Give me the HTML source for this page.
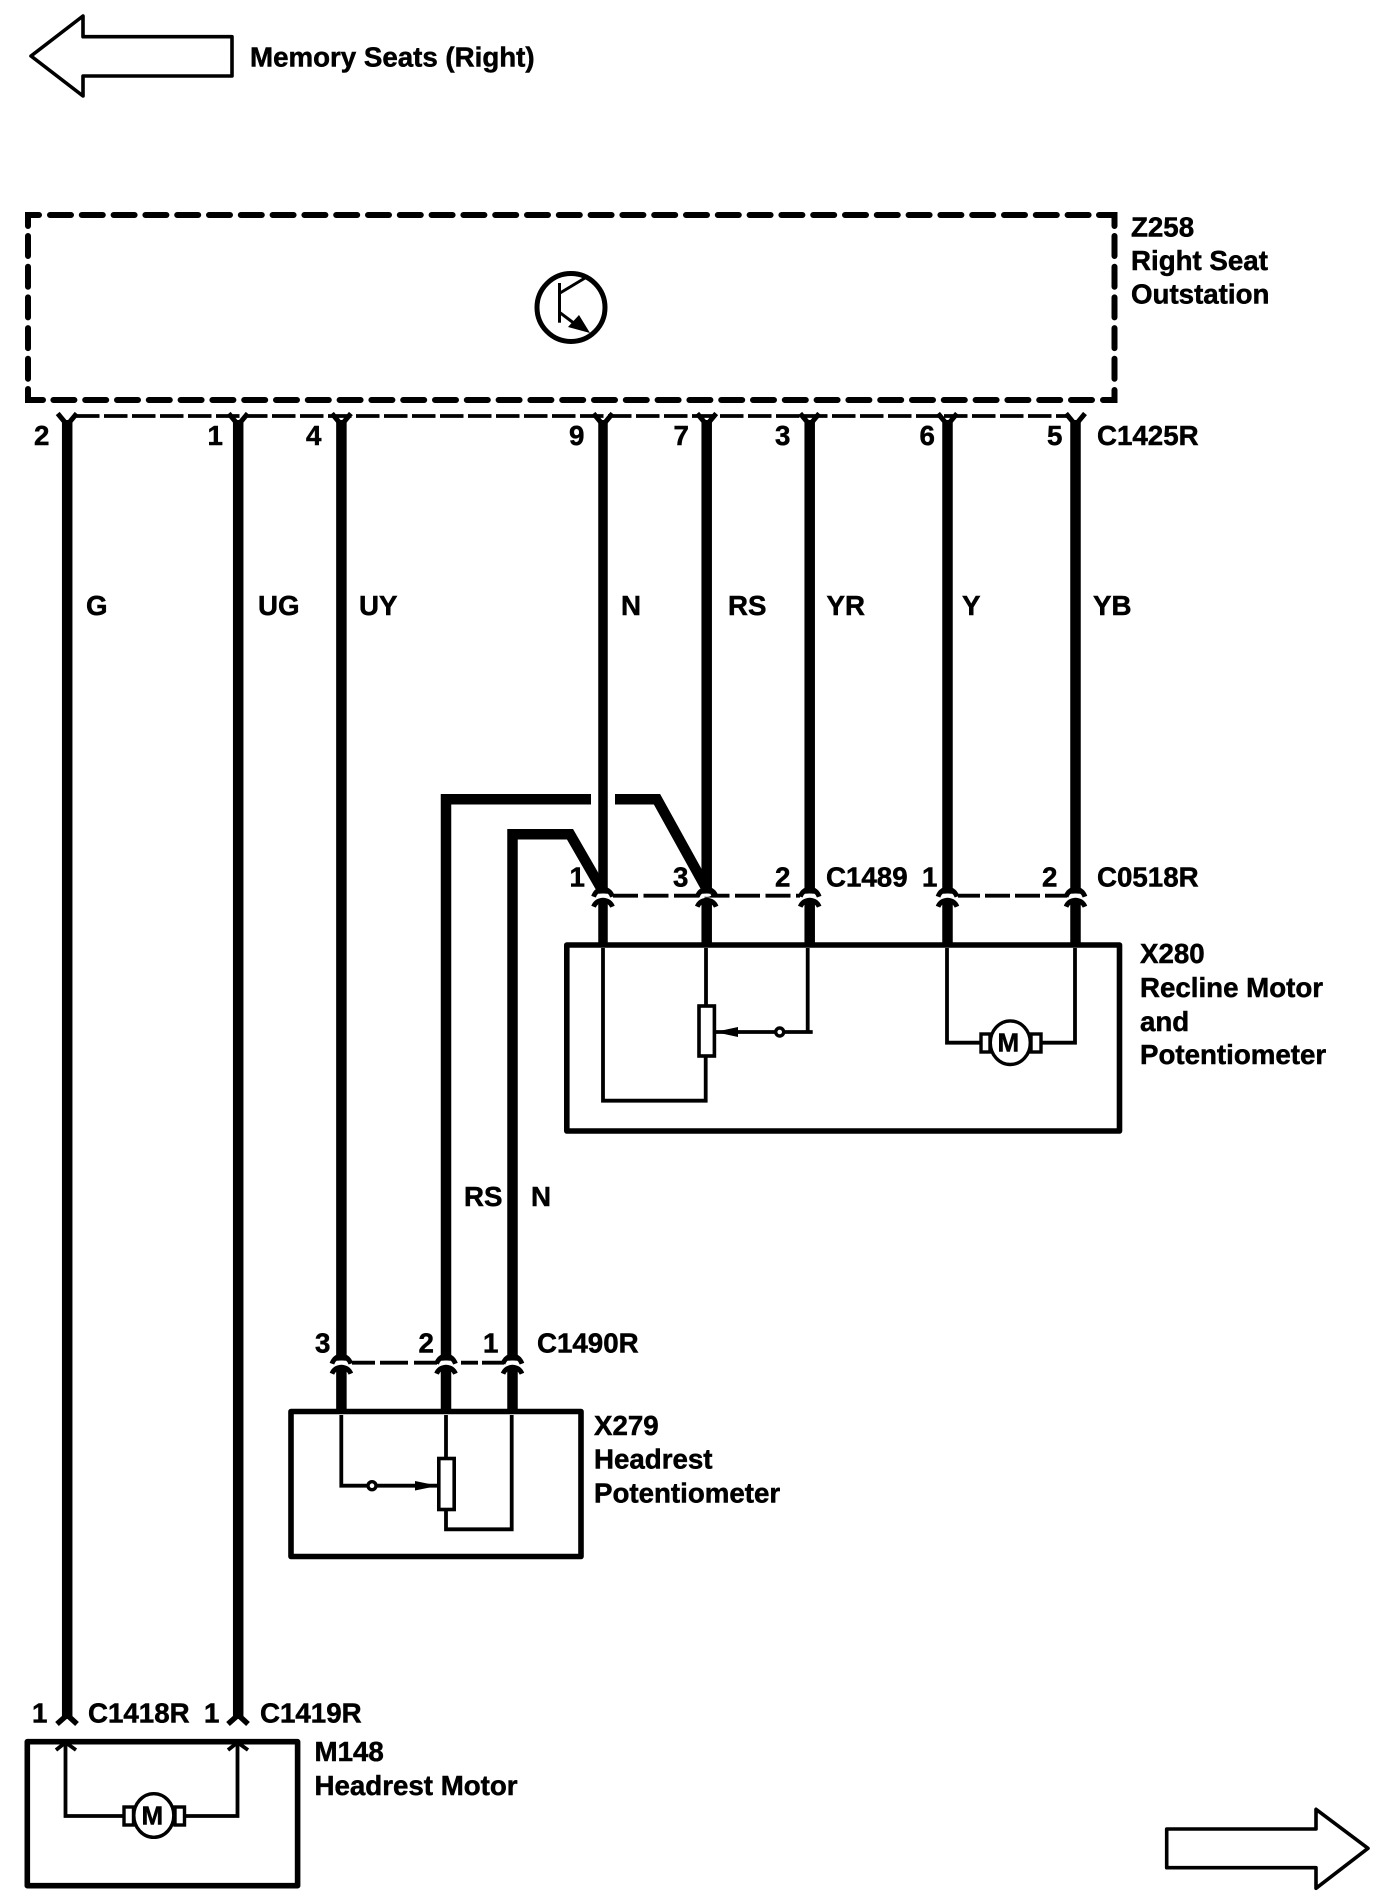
<!DOCTYPE html>
<html><head><meta charset="utf-8"><style>
html,body{margin:0;padding:0;background:#fff;width:1392px;height:1902px;overflow:hidden}
svg{display:block}
text{font-family:"Liberation Sans",Arial,sans-serif;font-weight:bold;font-size:27.7px;fill:#000;stroke:#000;stroke-width:.5px}
</style></head><body>
<svg width="1392" height="1902" viewBox="0 0 1392 1902" xmlns="http://www.w3.org/2000/svg">
<defs>
<g id="c">
<path d="M-9.5,1 Q-7,-6 0,-7 Q7,-6 9.5,1" fill="none" stroke="#000" stroke-width="4.8"/>
<path d="M-5.5,-7 H5.5 V-2 H-5.5Z" fill="#000"/>
<ellipse cx="0" cy="-.5" rx="4.5" ry="1.7" fill="#fff"/>
<path d="M-9.5,11 Q-7,5 0,4.5 Q7,5 9.5,11" fill="none" stroke="#000" stroke-width="4.8"/>
</g>
<path id="y" d="M-9.5,413.5 L0,425 L9.5,413.5" fill="none" stroke="#000" stroke-width="5"/>
</defs>
<rect width="1392" height="1902" fill="#fff"/>

<!-- arrows -->
<path d="M31,56 L83,16 V36.7 H232 V76 H83 V96 Z" fill="#fff" stroke="#000" stroke-width="3.6" stroke-linejoin="round"/>
<path d="M1368,1848.3 L1316,1809.3 V1829 H1166.7 V1867.7 H1316 V1888.3 Z" fill="#fff" stroke="#000" stroke-width="3.6" stroke-linejoin="round"/>

<!-- Z258 dashed box -->
<g fill="none" stroke="#000" stroke-width="6" stroke-linecap="round">
<path d="M28,226 V215 H39"/>
<path d="M1099,215 H1114.5 V226"/>
<path d="M28,389 V400 H43"/>
<path d="M1103,400 H1114.5 V390"/>
<line x1="50" y1="215" x2="1095" y2="215" stroke-dasharray="21 10.8"/>
<line x1="53.4" y1="400" x2="1095" y2="400" stroke-dasharray="21 10.8"/>
<line x1="28" y1="236" x2="28" y2="381" stroke-dasharray="20 10.7"/>
<line x1="1114.5" y1="236" x2="1114.5" y2="381" stroke-dasharray="20 10.7"/>
</g>

<!-- transistor -->
<circle cx="571" cy="307.5" r="34" fill="none" stroke="#000" stroke-width="5"/>
<g stroke="#000" stroke-width="3" fill="none">
<line x1="559.5" y1="283" x2="559.5" y2="322.7"/>
<line x1="560" y1="293" x2="585" y2="278"/>
<line x1="560" y1="312.7" x2="575" y2="324"/>
</g>
<path d="M590,333 L579,315 L568,327 Z" fill="#000"/>

<!-- connector dashes -->
<g stroke="#000" stroke-width="3.8" fill="none">
<line x1="76" y1="416" x2="1070" y2="416" stroke-dasharray="23.5 4.5"/>
<line x1="613" y1="895.7" x2="800" y2="895.7" stroke-dasharray="25 5.5"/>
<line x1="958" y1="895.7" x2="1067" y2="895.7" stroke-dasharray="22 5 25 5 25 5 25"/>
<line x1="352" y1="1362.7" x2="504" y2="1362.7" stroke-dasharray="23 5 28 6 23 24 17 4 22"/>
</g>

<!-- heavy wires -->
<g stroke="#000" fill="none" stroke-width="10.5" stroke-linejoin="miter">
<line x1="67.2" y1="420" x2="67.2" y2="1719"/>
<line x1="238.2" y1="420" x2="238.2" y2="1719"/>
<line x1="341.4" y1="420" x2="341.4" y2="1357"/>
<line x1="341.4" y1="1368" x2="341.4" y2="1410"/>
<line x1="603" y1="420" x2="603" y2="890" stroke-width="9.5"/>
<line x1="603" y1="900" x2="603" y2="943" stroke-width="9.5"/>
<line x1="706.7" y1="420" x2="706.7" y2="890"/>
<line x1="706.7" y1="900" x2="706.7" y2="943"/>
<line x1="809.7" y1="420" x2="809.7" y2="890"/>
<line x1="809.7" y1="900" x2="809.7" y2="943"/>
<line x1="947.5" y1="420" x2="947.5" y2="890"/>
<line x1="947.5" y1="900" x2="947.5" y2="943"/>
<line x1="1075.5" y1="420" x2="1075.5" y2="890"/>
<line x1="1075.5" y1="900" x2="1075.5" y2="943"/>
<polyline points="446,1357 446,799.3 591,799.3"/>
<polyline points="615,799.3 657,799.3 705,886"/>
<polyline points="512.5,1357 512.5,834.3 570,834.3 601,888"/>
<line x1="446" y1="1368" x2="446" y2="1410"/>
<line x1="512.5" y1="1368" x2="512.5" y2="1410"/>
</g>

<!-- Y terminals -->
<use href="#y" x="67.2"/><use href="#y" x="238.2"/><use href="#y" x="341.4"/><use href="#y" x="603"/>
<use href="#y" x="706.7"/><use href="#y" x="809.7"/><use href="#y" x="947.5"/><use href="#y" x="1075.5"/>
<g fill="none" stroke="#000" stroke-width="5.5">
<path d="M57,1724 L67.2,1715 L77,1724"/>
<path d="M228,1724 L238.2,1715 L248,1724"/>
</g>

<!-- connector symbols -->
<use href="#c" x="603" y="895.7"/><use href="#c" x="706.7" y="895.7"/><use href="#c" x="809.7" y="895.7"/>
<use href="#c" x="947.5" y="895.7"/><use href="#c" x="1075.5" y="895.7"/>
<use href="#c" x="341.4" y="1362.7"/><use href="#c" x="446" y="1362.7"/><use href="#c" x="512.5" y="1362.7"/>

<!-- component boxes -->
<g fill="none" stroke="#000" stroke-width="5.6" stroke-linejoin="round">
<rect x="566.8" y="945" width="552.7" height="186"/>
<rect x="291" y="1411.5" width="290" height="145"/>
<rect x="27.3" y="1741.7" width="270.3" height="144"/>
</g>

<!-- X280 internals -->
<g fill="none" stroke="#000" stroke-width="3.8">
<polyline points="603,948 603,1100.7 705.7,1100.7 705.7,1056"/>
<line x1="706" y1="948" x2="706" y2="1006"/>
<rect x="699" y="1006" width="15.4" height="50" fill="#fff" stroke-width="3.6"/>
<polyline points="807.7,948 807.7,1032"/>
<line x1="812.7" y1="1032" x2="716" y2="1032"/>
<circle cx="779.7" cy="1032" r="4" fill="#fff" stroke-width="3.4"/>
<polyline points="947,948 947,1042.7 981,1042.7"/>
<polyline points="1075,948 1075,1042.7 1041,1042.7"/>
<rect x="981" y="1034" width="9" height="18" fill="#fff" stroke-width="3.4"/>
<rect x="1031" y="1034" width="10" height="18" fill="#fff" stroke-width="3.4"/>
<ellipse cx="1010.3" cy="1042.7" rx="20" ry="21.8" fill="#fff" stroke-width="3.4"/>
</g>
<path d="M715,1032 L738,1027 V1037 Z" fill="#000"/>
<text x="997.5" y="1051.5" style="font-size:26px">M</text>

<!-- X279 internals -->
<g fill="none" stroke="#000" stroke-width="3.8">
<polyline points="341.3,1415 341.3,1485.7 438,1485.7"/>
<circle cx="372" cy="1485.7" r="4" fill="#fff" stroke-width="3.4"/>
<line x1="446" y1="1415" x2="446" y2="1458"/>
<rect x="438.8" y="1458.5" width="15.4" height="51" fill="#fff" stroke-width="3.6"/>
<polyline points="446,1510 446,1529.3 511.7,1529.3 511.7,1415"/>
</g>
<path d="M438,1485.7 L415,1481 V1490.5 Z" fill="#000"/>

<!-- M148 internals -->
<g fill="none" stroke="#000" stroke-width="3.8">
<polyline points="65.5,1745 65.5,1816 124,1816"/>
<polyline points="237.5,1745 237.5,1816 184,1816"/>
<polyline points="56,1750 65.5,1742.5 76,1750"/>
<polyline points="228,1750 237.5,1742.5 248,1750"/>
<rect x="124" y="1807" width="9.5" height="18" fill="#fff" stroke-width="3.4"/>
<rect x="175" y="1807" width="9.5" height="18" fill="#fff" stroke-width="3.4"/>
<ellipse cx="153.8" cy="1815.5" rx="20" ry="21.8" fill="#fff" stroke-width="3.4"/>
</g>
<text x="141.5" y="1824.5" style="font-size:26px">M</text>

<!-- labels -->
<text x="250" y="66.7">Memory Seats (Right)</text>
<text x="1131" y="236.7">Z258</text>
<text x="1131" y="270">Right Seat</text>
<text x="1131" y="303.3">Outstation</text>

<text x="34" y="445">2</text><text x="207.5" y="445">1</text><text x="306" y="445">4</text>
<text x="569" y="445">9</text><text x="673.5" y="445">7</text><text x="775" y="445">3</text>
<text x="919.5" y="445">6</text><text x="1047" y="445">5</text>
<text x="1097" y="445">C1425R</text>

<text x="86" y="615">G</text><text x="258" y="615">UG</text><text x="359" y="615">UY</text>
<text x="621" y="615">N</text><text x="728" y="615">RS</text><text x="826.5" y="615">YR</text>
<text x="962" y="615">Y</text><text x="1093" y="615">YB</text>

<text x="464" y="1206">RS</text><text x="531" y="1206">N</text>

<text x="569.5" y="886.7">1</text><text x="673" y="886.7">3</text><text x="775" y="886.7">2</text>
<text x="826" y="886.7">C1489</text>
<text x="922" y="886.7">1</text><text x="1042" y="886.7">2</text>
<text x="1097" y="886.7">C0518R</text>

<text x="1140" y="963">X280</text>
<text x="1140" y="997">Recline Motor</text>
<text x="1140" y="1031">and</text>
<text x="1140" y="1064">Potentiometer</text>

<text x="315" y="1352.7">3</text><text x="418.5" y="1352.7">2</text><text x="483" y="1352.7">1</text>
<text x="537" y="1352.7">C1490R</text>
<text x="594" y="1435">X279</text>
<text x="594" y="1468.3">Headrest</text>
<text x="594" y="1502.3">Potentiometer</text>

<text x="32" y="1722.7">1</text><text x="88" y="1722.7">C1418R</text>
<text x="204" y="1722.7">1</text><text x="260" y="1722.7">C1419R</text>
<text x="314.5" y="1761">M148</text>
<text x="314.5" y="1795">Headrest Motor</text>
</svg>
</body></html>
